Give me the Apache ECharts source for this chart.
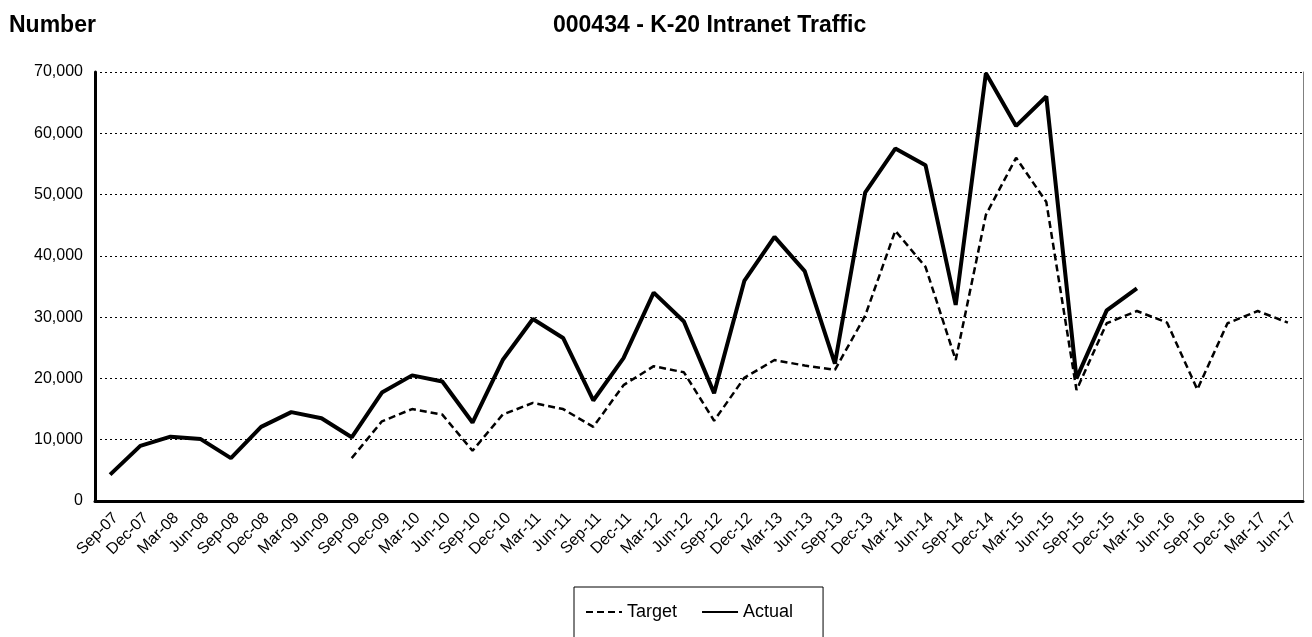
<!DOCTYPE html>
<html>
<head>
<meta charset="utf-8">
<script src="https://cdn.jsdelivr.net/npm/echarts@6/dist/echarts.min.js"></script>
<style>
html,body{margin:0;padding:0;background:#fff;}
#chart{width:1312px;height:637px;}
</style>
</head>
<body>
<div id="chart"></div>
<script>
const categories = ['Sep-07','Dec-07','Mar-08','Jun-08','Sep-08','Dec-08','Mar-09','Jun-09','Sep-09','Dec-09',
  'Mar-10','Jun-10','Sep-10','Dec-10','Mar-11','Jun-11','Sep-11','Dec-11','Mar-12','Jun-12',
  'Sep-12','Dec-12','Mar-13','Jun-13','Sep-13','Dec-13','Mar-14','Jun-14','Sep-14','Dec-14',
  'Mar-15','Jun-15','Sep-15','Dec-15','Mar-16','Jun-16','Sep-16','Dec-16','Mar-17','Jun-17'];

const targetValues = [null,null,null,null,null,null,null,null,7000,13000,
  15000,14100,8200,14100,16000,15000,12100,18900,22000,21000,
  13100,20100,23000,22100,21400,30200,44100,38200,23000,46700,
  56000,48800,18100,29000,31000,29100,18200,29000,31000,29100];

const actualValues = [4300,9000,10500,10100,7000,12100,14500,13500,10400,17700,
  20500,19500,12800,23000,29700,26600,16400,23300,34000,29300,
  17600,35900,43100,37500,22400,50300,57500,54800,32000,69800,
  61200,66000,20000,31100,34700,null,null,null,null,null];

const yTicks = {min:0, max:70000, interval:10000};

const FONT = 'Arial, "Liberation Sans", sans-serif';
const chart = echarts.init(document.getElementById('chart'));
chart.setOption({
  backgroundColor:'#fff',
  animation:false,
  textStyle:{fontFamily:FONT, color:'#000'},
  title:[
    {text:'Number', left:9, top:14, padding:0, textStyle:{fontSize:23, fontWeight:'bold', color:'#000', fontFamily:FONT}},
    {text:'000434 - K-20 Intranet Traffic', left:553, top:14, padding:0, textStyle:{fontSize:23, fontWeight:'bold', color:'#000', fontFamily:FONT}}
  ],
  legend:{
    left:574, top:587,
    padding:[16,30,22,11],
    borderColor:'#000', borderWidth:1,
    itemWidth:36, itemHeight:16, itemGap:24,
    itemStyle:{opacity:0},
    textStyle:{fontSize:18, color:'#000', fontFamily:FONT},
    data:['Target','Actual']
  },
  grid:{left:95, right:9, top:72, bottom:136},
  xAxis:{
    type:'category',
    data:categories,
    boundaryGap:true,
    axisLine:{lineStyle:{color:'#000', width:3}},
    axisTick:{show:false},
    axisLabel:{rotate:45, fontSize:16, color:'#000', margin:9, interval:0, verticalAlign:'top', fontFamily:FONT}
  },
  yAxis:[{
    type:'value',
    min:yTicks.min, max:yTicks.max, interval:yTicks.interval,
    axisLine:{show:true, lineStyle:{color:'#000', width:3}},
    axisTick:{show:false},
    axisLabel:{fontSize:16, color:'#000', margin:12, fontFamily:FONT,
      formatter:v=>v.toLocaleString('en-US')},
    splitLine:{show:true, lineStyle:{color:'#000', type:[2,3], width:1}}
  },{
    type:'value',
    position:'right',
    min:yTicks.min, max:yTicks.max, interval:yTicks.interval,
    axisLine:{show:true, lineStyle:{color:'#808080', width:1}},
    axisTick:{show:false},
    axisLabel:{show:false},
    splitLine:{show:false}
  }],
  series:[
    {name:'Target', type:'line', data:targetValues, symbol:'none', showSymbol:false,
      lineStyle:{color:'#000', width:2.5, type:[7,4]}, itemStyle:{color:'#000'}, z:2},
    {name:'Actual', type:'line', data:actualValues, symbol:'none', showSymbol:false,
      lineStyle:{color:'#000', width:4}, itemStyle:{color:'#000'}, z:3}
  ]
});
</script>
</body>
</html>
